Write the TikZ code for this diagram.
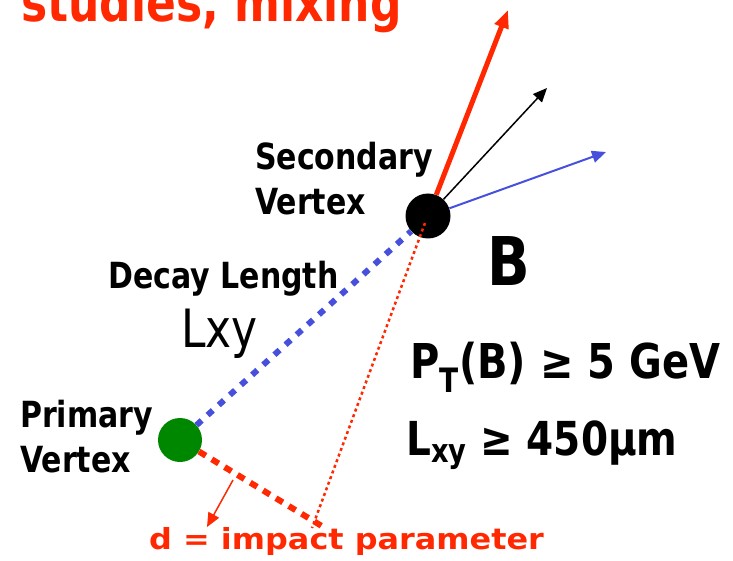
\documentclass[tikz,border=0pt]{standalone}
\usepackage{fontspec}
\setmainfont{DejaVu Sans}
\usetikzlibrary{arrows.meta}

\definecolor{hotred}{RGB}{255,40,0}
\definecolor{trackblue}{RGB}{70,80,220}
\definecolor{pvgreen}{RGB}{0,135,0}

% taller letters, closer to the original hand-drawn font
\newcommand{\tallt}[1]{\scalebox{1}[1.2]{#1}}

\begin{document}
\begin{tikzpicture}[
    x=1pt, y=-1pt,
    lbl/.style={inner sep=0pt, anchor=base west, align=left, font=\bfseries\fontsize{30}{45}\selectfont},
    cut/.style={inner sep=0pt, anchor=base west, font=\bfseries\fontsize{40}{44}\selectfont},
    vtx/.style={circle, minimum size=45pt, inner sep=0pt},
    track/.style={-{Triangle[length=14pt, width=12pt]}},
]
\useasboundingbox (0,0) rectangle (733,561);

% Title line, cut off at the top
\node[lbl, text=hotred, font=\bfseries\fontsize{44}{50}\selectfont] (title) at (21,22) {\tallt{studies, mixing}};

% Vertices
\node[vtx, fill=black] (sv) at (428,216) {};
\node[vtx, fill=pvgreen, minimum size=44pt] (pv) at (180,440) {};

% Decay products leaving the secondary vertex
\coordinate (tipred) at (508,10);
\coordinate (tipblack) at (547,88);
\coordinate (tipblue) at (606,152);
\draw[track, hotred, line width=5pt, -{Triangle[length=18pt, width=14pt]}] (sv) -- (tipred);
\draw[track, black, line width=1.5pt] (sv) -- (tipblack);
\draw[track, trackblue, line width=2pt] (sv) -- (tipblue);

% Decay length and impact parameter
\coordinate (ipend) at (325,528);
\coordinate (trkend) at (312,528);
\draw[trackblue, line width=6pt, dash pattern=on 7pt off 8pt] (pv) -- (sv);
\draw[hotred, line width=6pt, dash pattern=on 8pt off 7pt] (pv) -- (ipend);
\draw[hotred, line width=2.5pt, dash pattern=on 3pt off 3pt] (sv.center) ++(-3,7) -- (trkend);
\coordinate (dfrom) at (233,480);
\coordinate (dto) at (207,527);
\draw[track, hotred, line width=1.5pt] (dfrom) -- (dto);

% Labels
\node[lbl] (seclbl) at (255,215) {\tallt{Secondary}\\\tallt{Vertex}};
\node[lbl] (prilbl) at (20,472) {\tallt{Primary}\\\tallt{Vertex}};
\node[lbl] (declbl) at (108,288) {\tallt{Decay Length}};
\node[lbl, font=\fontsize{44}{50}\selectfont] (lxy) at (181,347) {\tallt{Lxy}};
\node[lbl, font=\bfseries\fontsize{56}{60}\selectfont] (blbl) at (487,285) {\tallt{B}};
\node[cut] (ptcut) at (410,378) {\tallt{P\textsubscript{T}(B) ≥ 5 GeV}};
\node[cut, font=\bfseries\fontsize{39}{44}\selectfont] (lxycut) at (406,455) {\tallt{L\textsubscript{xy} ≥ 450µm}};
\node[lbl, text=hotred, font=\bfseries\fontsize{29}{32}\selectfont] (dlbl) at (149,549) {\scalebox{1.1}[1]{d = impact parameter}};

\end{tikzpicture}
\end{document}
